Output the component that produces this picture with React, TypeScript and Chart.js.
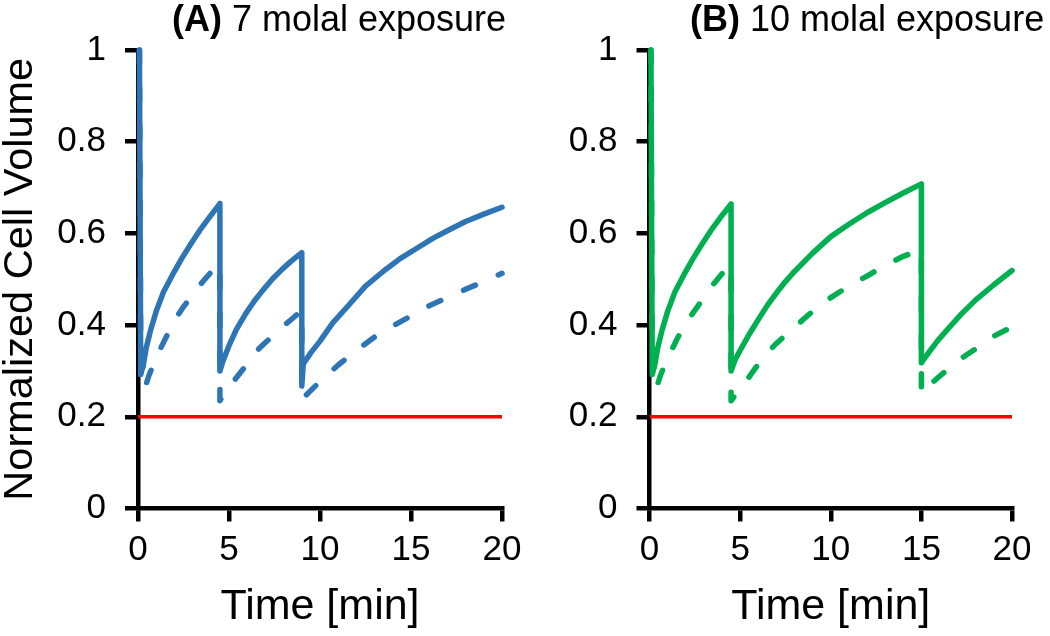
import React, { useEffect, useRef } from "react";
import { Chart, registerables } from "chart.js";

Chart.register(...registerables);

const FONT = "'Liberation Sans', Arial, Helvetica, sans-serif";

// Axis ticks
const xTickValues = [0, 5, 10, 15, 20];
const yTickValues = [0, 0.2, 0.4, 0.6, 0.8, 1];

// Threshold line
const thresholdTime = [0, 20];
const thresholdValue = [0.2, 0.2];

// (A) 7 molal exposure
const timeA_solid = [0.08, 0.15, 0.3, 0.45, 0.7, 1.0, 1.4, 1.9, 2.4, 2.9, 3.4, 3.9, 4.5, 4.5, 4.7, 5.0, 5.4, 5.9, 6.4, 6.9, 7.4, 7.9, 8.4, 9.0, 9.0, 9.08, 9.5, 10.0, 10.7, 11.5, 12.5, 13.5, 14.4, 15.3, 16.2, 17.1, 18.0, 19.0, 20.0];
const volA_solid = [1.0, 0.292, 0.315, 0.35, 0.39, 0.43, 0.472, 0.51, 0.545, 0.577, 0.607, 0.634, 0.665, 0.3, 0.325, 0.355, 0.39, 0.424, 0.453, 0.478, 0.501, 0.521, 0.539, 0.558, 0.267, 0.315, 0.34, 0.365, 0.405, 0.44, 0.485, 0.518, 0.545, 0.567, 0.589, 0.608, 0.626, 0.642, 0.657];

const timeA_dash = [0.08, 0.15, 0.4, 0.6, 1.0, 1.5, 2.0, 2.5, 3.0, 3.5, 4.0, 4.5, 4.5, 5.0, 5.5, 6.0, 6.5, 7.0, 7.5, 8.0, 8.5, 9.0, 9.0, 9.1, 10.0, 11.0, 12.0, 13.0, 14.0, 15.0, 16.0, 17.0, 18.0, 19.0, 20.0];
const volA_dash = [1.0, 0.35, 0.265, 0.29, 0.33, 0.37, 0.41, 0.44, 0.465, 0.492, 0.515, 0.533, 0.235, 0.265, 0.29, 0.315, 0.343, 0.362, 0.379, 0.398, 0.415, 0.432, 0.24, 0.242, 0.277, 0.313, 0.345, 0.374, 0.398, 0.42, 0.442, 0.46, 0.478, 0.495, 0.513];

// (B) 10 molal exposure
const timeB_solid = [0.08, 0.15, 0.3, 0.45, 0.7, 1.0, 1.4, 1.9, 2.4, 2.9, 3.4, 3.9, 4.5, 4.5, 4.7, 5.0, 5.5, 6.0, 6.5, 7.0, 7.5, 8.0, 9.0, 10.0, 11.0, 12.0, 13.0, 14.0, 15.0, 15.0, 15.4, 15.9, 16.5, 17.2, 18.0, 19.0, 20.0];
const volB_solid = [1.0, 0.292, 0.315, 0.35, 0.39, 0.43, 0.472, 0.51, 0.545, 0.577, 0.607, 0.634, 0.664, 0.3, 0.322, 0.345, 0.38, 0.412, 0.443, 0.47, 0.495, 0.517, 0.557, 0.593, 0.62, 0.645, 0.667, 0.688, 0.708, 0.318, 0.34, 0.366, 0.393, 0.424, 0.455, 0.488, 0.519];

const timeB_dash = [0.08, 0.15, 0.4, 0.6, 1.0, 1.5, 2.0, 2.5, 3.0, 3.5, 4.0, 4.5, 4.5, 5.0, 5.5, 6.0, 6.5, 7.0, 7.5, 8.0, 8.5, 9.0, 10.0, 11.0, 12.0, 13.0, 14.0, 15.0, 15.0, 15.7, 16.4, 17.3, 18.1, 19.0, 20.0];
const volB_dash = [1.0, 0.35, 0.265, 0.29, 0.328, 0.368, 0.405, 0.432, 0.46, 0.488, 0.512, 0.53, 0.235, 0.262, 0.287, 0.315, 0.34, 0.36, 0.378, 0.395, 0.413, 0.43, 0.46, 0.485, 0.507, 0.53, 0.55, 0.565, 0.25, 0.278, 0.302, 0.33, 0.351, 0.376, 0.396];

const BLUE = "#2E75B6";
const GREEN = "#00B050";
const RED = "#FF0000";

const W = 525;
const H = 636;
const AREA_TOP = 50;
const AREA_BOTTOM = 508.5;

type Panel = {
  label: string;
  rest: string;
  color: string;
  tSolid: number[];
  vSolid: number[];
  tDash: number[];
  vDash: number[];
  yTitle: boolean;
  areaLeft: number;
  areaRight: number;
  titleX: number;
};

const panels: Panel[] = [
  { label: "(A)", rest: " 7 molal exposure", color: BLUE, tSolid: timeA_solid, vSolid: volA_solid, tDash: timeA_dash, vDash: volA_dash, yTitle: true, areaLeft: 138, areaRight: 502, titleX: 172 },
  { label: "(B)", rest: " 10 molal exposure", color: GREEN, tSolid: timeB_solid, vSolid: volB_solid, tDash: timeB_dash, vDash: volB_dash, yTitle: false, areaLeft: 124.5, areaRight: 487, titleX: 165 },
];

const zip = (t: number[], v: number[]) => t.map((x, i) => ({ x, y: v[i] }));

const axisGrid = {
  display: true,
  drawOnChartArea: false,
  drawTicks: true,
  tickLength: 13,
  color: "#000",
  tickColor: "#000",
  lineWidth: 4.5,
  tickWidth: 4.5,
};
const axisBorder = { display: true, color: "#000", width: 4.5 };

function makeConfig(p: Panel): any {
  const titlePlugin = {
    id: "panelTitle",
    afterDraw(chart: any) {
      const ctx = chart.ctx;
      ctx.save();
      ctx.fillStyle = "#000";
      ctx.textBaseline = "middle";
      ctx.textAlign = "left";
      ctx.font = `bold 36px ${FONT}`;
      ctx.fillText(p.label, p.titleX, 21);
      const w = ctx.measureText(p.label).width;
      ctx.font = `36px ${FONT}`;
      ctx.fillText(p.rest, p.titleX + w, 21);
      ctx.restore();
    },
  };
  return {
    type: "line",
    data: {
      datasets: [
        { data: zip(p.tSolid, p.vSolid), borderColor: p.color, borderWidth: 5.5, borderJoinStyle: "round", borderCapStyle: "round", pointRadius: 0, tension: 0, clip: 8 },
        { data: zip(p.tDash, p.vDash), borderColor: p.color, borderWidth: 5.5, borderDash: [13, 25], borderJoinStyle: "round", borderCapStyle: "round", pointRadius: 0, tension: 0, clip: 8 },
        { data: zip(thresholdTime, thresholdValue), borderColor: RED, borderWidth: 3.5, pointRadius: 0, tension: 0 },
      ],
    },
    options: {
      responsive: false,
      animation: false,
      devicePixelRatio: 1,
      layout: { padding: { left: 0, right: W - p.areaRight, top: AREA_TOP, bottom: 0 } },
      plugins: { legend: { display: false }, tooltip: { enabled: false }, title: { display: false } },
      scales: {
        x: {
          type: "linear",
          min: 0,
          max: 20,
          afterBuildTicks: (scale: any) => {
            scale.ticks = xTickValues.map((v) => ({ value: v }));
          },
          afterFit: (scale: any) => {
            scale.height = H - AREA_BOTTOM;
            scale.paddingLeft = 0;
            scale.paddingRight = 0;
          },
          ticks: { color: "#000", font: { family: FONT, size: 35 }, padding: 8, maxRotation: 0 },
          grid: axisGrid,
          border: axisBorder,
          title: { display: true, text: "Time [min]", color: "#000", font: { family: FONT, size: 43 }, padding: { top: 0, bottom: 3 } },
        },
        y: {
          type: "linear",
          min: 0,
          max: 1,
          afterBuildTicks: (scale: any) => {
            scale.ticks = yTickValues.map((v) => ({ value: v }));
          },
          afterFit: (scale: any) => {
            scale.width = p.areaLeft;
            scale.paddingTop = 0;
            scale.paddingBottom = 0;
          },
          ticks: { color: "#000", font: { family: FONT, size: 35 }, padding: 19, callback: (v: any) => String(Math.round(Number(v) * 10) / 10) },
          grid: axisGrid,
          border: axisBorder,
          title: { display: p.yTitle, text: "Normalized Cell Volume", color: "#000", font: { family: FONT, size: 41.5 }, padding: { top: -4, bottom: 0 } },
        },
      },
    },
    plugins: [titlePlugin],
  };
}

function PanelChart({ panel }: { panel: Panel }) {
  const ref = useRef<HTMLCanvasElement | null>(null);
  useEffect(() => {
    if (!ref.current) return;
    const chart = new Chart(ref.current, makeConfig(panel));
    return () => chart.destroy();
  }, [panel]);
  return <canvas ref={ref} width={W} height={H} style={{ width: W, height: H, display: "block" }} />;
}

export default function App() {
  return (
    <div style={{ position: "fixed", left: 0, top: 0, width: 1050, height: 636, background: "#fff", display: "flex" }}>
      {panels.map((p) => (
        <PanelChart key={p.label} panel={p} />
      ))}
    </div>
  );
}
